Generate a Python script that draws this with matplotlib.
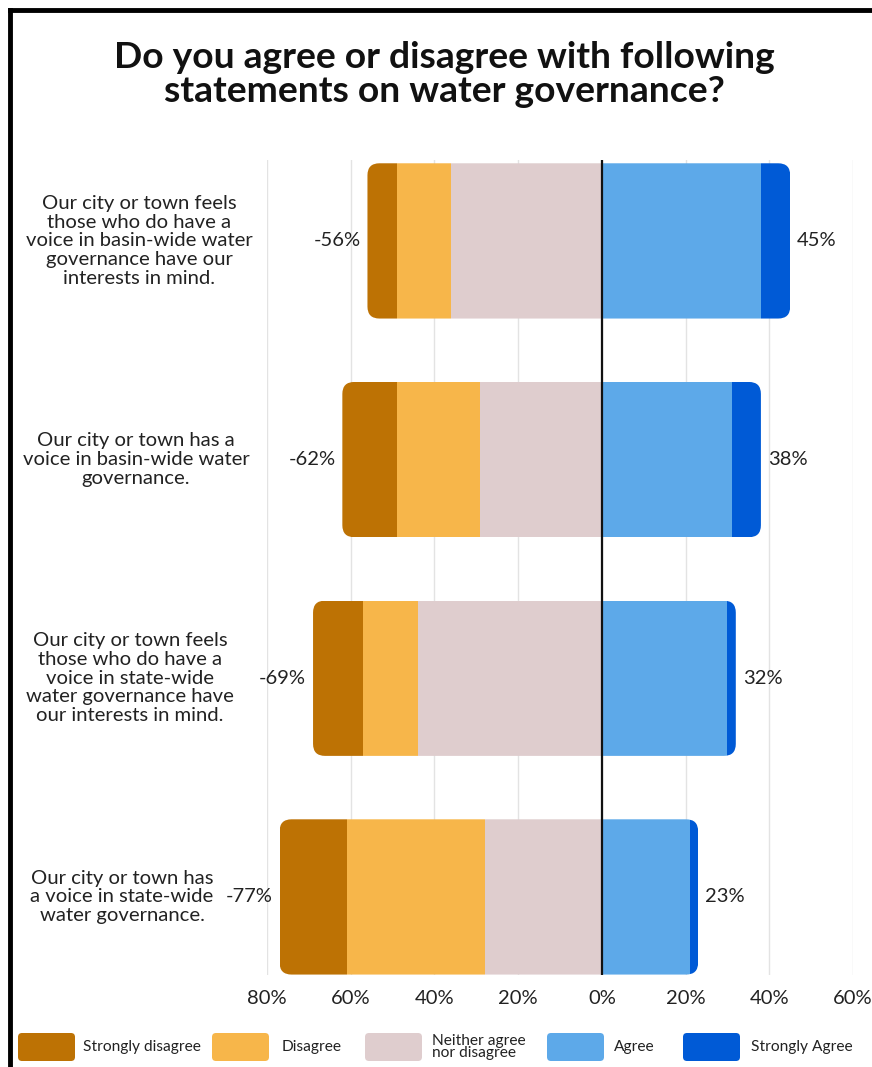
import matplotlib.pyplot as plt
import matplotlib.transforms as mtransforms
from matplotlib.patches import FancyBboxPatch, Rectangle
import numpy as np

plt.rcParams['font.family'] = ['Lato', 'DejaVu Sans']

questions = [
    "Our city or town feels\nthose who do have a\nvoice in basin-wide water\ngovernance have our\ninterests in mind.",
    "Our city or town has a\nvoice in basin-wide water\ngovernance.",
    "Our city or town feels\nthose who do have a\nvoice in state-wide\nwater governance have\nour interests in mind.",
    "Our city or town has\na voice in state-wide\nwater governance.",
]
strongly_disagree = [7, 13, 12, 16]
disagree = [13, 20, 13, 33]
neither = [36, 29, 44, 28]
agree = [38, 31, 30, 21]
strongly_agree = [7, 7, 2, 2]

categories = ["Strongly disagree", "Disagree", "Neither agree\nnor disagree", "Agree", "Strongly Agree"]
colors = ["#bd7204", "#f7b64a", "#dfcdce", "#5da9e9", "#005ad6"]

xticks = [-80, -60, -40, -20, 0, 20, 40, 60]

W, H = 872, 1067
fig = plt.figure(figsize=(W / 100, H / 100), dpi=100)

# axes placed in pixel terms
ax_left, ax_right, ax_top, ax_bottom = 267, 853, 160, 975
ax = fig.add_axes([ax_left / W, 1 - ax_bottom / H, (ax_right - ax_left) / W, (ax_bottom - ax_top) / H])
ax.set_xlim(-80, 60)
ax.set_ylim(3.357, -0.37)

px_x = (ax_right - ax_left) / 140.0
px_y = (ax_bottom - ax_top) / (3.357 + 0.37)
radius_px = 12
bar_h = 0.71

for x in xticks:
    ax.axvline(x, color="#e3e3e3", lw=1, zorder=0)

y = np.arange(len(questions))
for i in y:
    left = strongly_disagree[i] + disagree[i] + neither[i]
    right = agree[i] + strongly_agree[i]
    outline = FancyBboxPatch((-left, i - bar_h / 2), left + right, bar_h,
                             boxstyle="round,pad=0,rounding_size=%f" % (radius_px / px_x),
                             mutation_aspect=px_x / px_y,
                             facecolor="none", edgecolor="none", zorder=1)
    ax.add_patch(outline)
    segs = [(-left, strongly_disagree[i]),
            (-left + strongly_disagree[i], disagree[i]),
            (-neither[i], neither[i]),
            (0, agree[i]),
            (agree[i], strongly_agree[i])]
    for (start, width), c in zip(segs, colors):
        r = Rectangle((start, i - bar_h / 2), width, bar_h, facecolor=c, edgecolor="none", zorder=2)
        ax.add_patch(r)
        r.set_clip_path(outline)
    ax.annotate("-%d%%" % left, (-left, i), xytext=(-5, 0), textcoords="offset points",
                ha="right", va="center", fontsize=14.5, color="#222222")
    ax.annotate("%d%%" % right, (right, i), xytext=(5, 0), textcoords="offset points",
                ha="left", va="center", fontsize=14.5, color="#222222")

ax.axvline(0, color="#111111", lw=1.6, zorder=3)

ax.set_xticks(xticks)
ax.set_xticklabels(["%d%%" % abs(v) for v in xticks], fontsize=14.5, color="#222222")
ax.tick_params(axis="x", length=0, pad=11)
ax.set_yticks([])
for s in ax.spines.values():
    s.set_visible(False)

# question text on the left, each block centred on its own column
label_cx = [139, 136, 130, 122]
trans = mtransforms.blended_transform_factory(fig.transFigure, ax.transData)
for i, q in enumerate(questions):
    ax.text(label_cx[i] / W, i, q, transform=trans, ha="center", va="center",
            multialignment="center", fontsize=14.6, linespacing=1.12, color="#222222")

fig.text(444 / W, 1 - 74.5 / H, "Do you agree or disagree with following\nstatements on water governance?",
         ha="center", va="center", fontsize=26.8, fontweight="bold", linespacing=1.07, color="#111111")

# legend along the bottom
box_x = [18, 212, 365, 547, 683]
label_x = [83, 282, 432, 614, 751]
box_w, box_h, box_yc = 57, 28, 1047
for bx, lx, c, lab in zip(box_x, label_x, colors, categories):
    fig.patches.append(FancyBboxPatch((bx / W, 1 - (box_yc + box_h / 2) / H), box_w / W, box_h / H,
                                      boxstyle="round,pad=0,rounding_size=%f" % (4 / W),
                                      mutation_aspect=W / H, transform=fig.transFigure,
                                      facecolor=c, edgecolor="none"))
    fig.text(lx / W, 1 - box_yc / H, lab, ha="left", va="center", fontsize=11.2,
             linespacing=0.9, color="#222222")

# frame lines at top and left
fig.add_artist(plt.Line2D([10 / W, 1], [1 - 9.5 / H, 1 - 9.5 / H], color="black", lw=3.5,
                          transform=fig.transFigure))
fig.add_artist(plt.Line2D([10 / W, 10 / W], [0, 1 - 9.5 / H], color="black", lw=3.5,
                          transform=fig.transFigure))

fig.savefig("out.png", dpi=100)
